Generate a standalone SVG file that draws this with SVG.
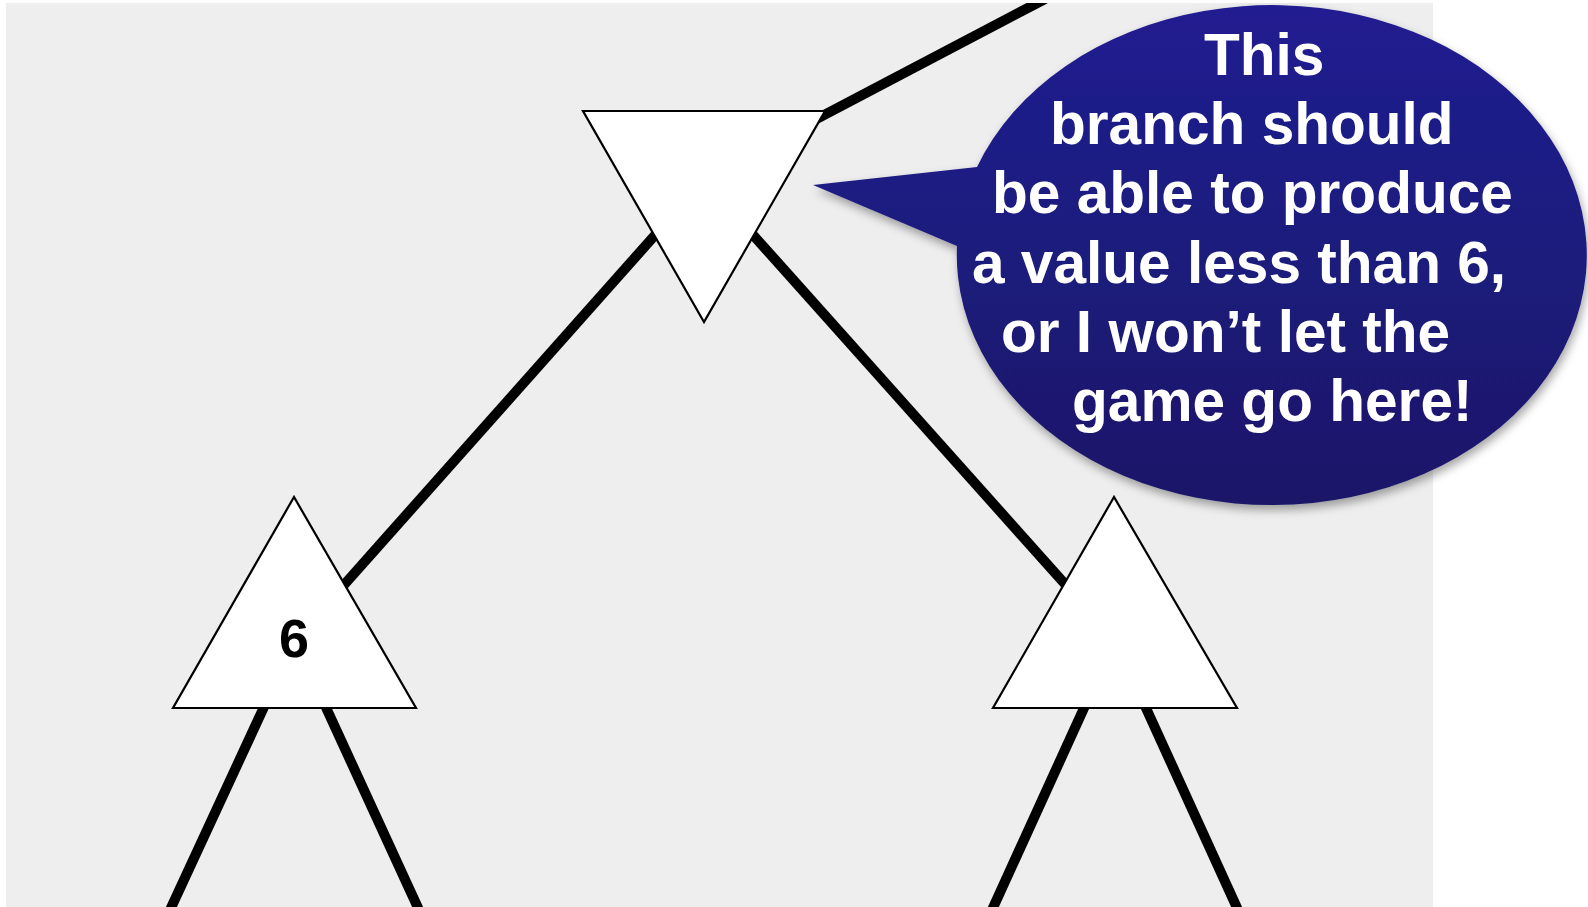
<svg xmlns="http://www.w3.org/2000/svg" width="1588" height="907" viewBox="0 0 1588 907">
  <defs>
    <style>
      .tri { fill: #ffffff; stroke: #000000; stroke-width: 2.2; stroke-linejoin: miter; }
      .edge { stroke: #000000; stroke-width: 10; fill: none; }
      .val { font-family: "Liberation Sans", Arial, sans-serif; font-weight: bold; font-size: 54px; fill: #000000; text-anchor: middle; }
      .call { font-family: "Liberation Sans", Arial, sans-serif; font-weight: bold; font-size: 58.6px; fill: #ffffff; }
    </style>
    <clipPath id="bgclip">
      <rect x="6" y="3" width="1427" height="904"/>
    </clipPath>
    <linearGradient id="blue" x1="0" y1="0" x2="0" y2="1">
      <stop offset="0" stop-color="#201d91"/>
      <stop offset="1" stop-color="#1b1868"/>
    </linearGradient>
    <filter id="shadow" x="-10%" y="-10%" width="125%" height="130%">
      <feDropShadow dx="2" dy="5" stdDeviation="5" flood-color="#000000" flood-opacity="0.35"/>
    </filter>
  </defs>

  <rect x="0" y="0" width="1588" height="907" fill="#ffffff"/>
  <rect x="6" y="3" width="1427" height="904" fill="#eeeeee"/>

  <g id="connectors" clip-path="url(#bgclip)">
    <line class="edge" x1="704" y1="178" x2="1045" y2="-1"/>
    <line class="edge" x1="704" y1="180" x2="295" y2="640"/>
    <line class="edge" x1="704" y1="180" x2="1115" y2="640"/>
    <line class="edge" x1="295" y1="640" x2="170" y2="910"/>
    <line class="edge" x1="295" y1="640" x2="419" y2="910"/>
    <line class="edge" x1="1115" y1="640" x2="992" y2="910"/>
    <line class="edge" x1="1115" y1="640" x2="1238" y2="910"/>
  </g>

  <g id="node-root">
    <polygon class="tri" points="583,111 825,111 704,322"/>
  </g>
  <g id="node-left">
    <polygon class="tri" points="294,497 173,708 416,708"/>
    <text class="val" x="294" y="657">6</text>
  </g>
  <g id="node-right">
    <polygon class="tri" points="1114,497 993,708 1237,708"/>
  </g>

  <g id="callout">
    <path filter="url(#shadow)" fill="url(#blue)" d="M 977 167 L 813 185 L 957 246 A 315 250 0 1 0 977 167 Z"/>
    <text class="call" x="1204" y="75">This</text>
    <text class="call" x="1050" y="144">branch should</text>
    <text class="call" x="992" y="213">be able to produce</text>
    <text class="call" x="972" y="283">a value less than 6,</text>
    <text class="call" x="1001" y="352">or I won’t let the</text>
    <text class="call" x="1072" y="421">game go here!</text>
  </g>
</svg>
